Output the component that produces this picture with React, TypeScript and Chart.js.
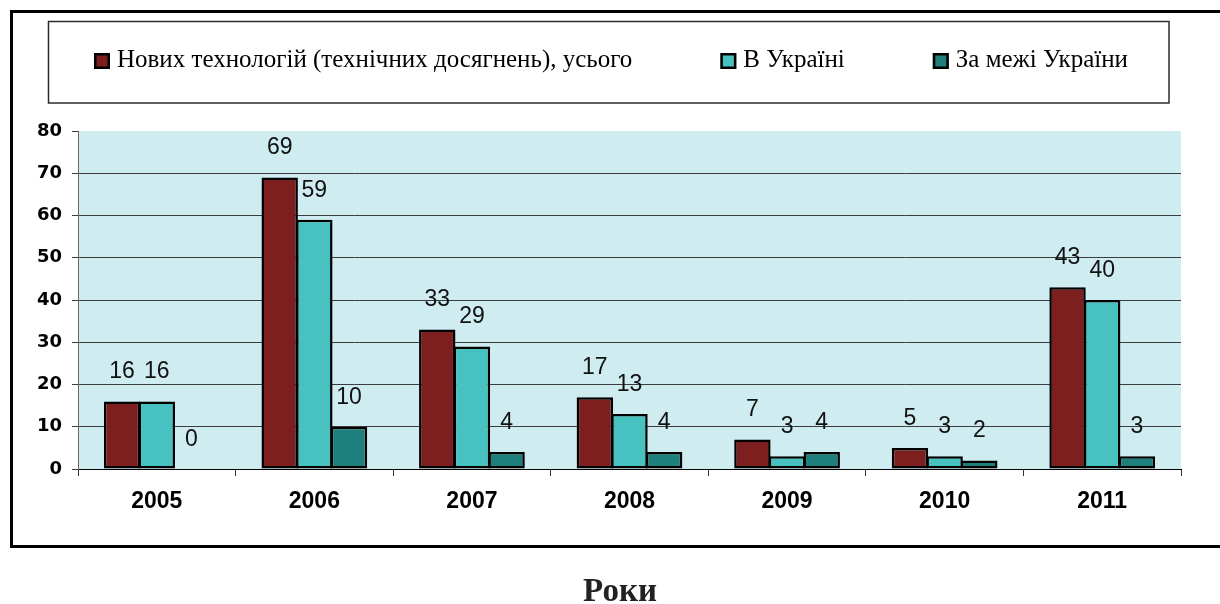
import React, { useEffect, useRef } from "react";
import { Chart, registerables } from "chart.js";

Chart.register(...registerables);

const categories = ["2005", "2006", "2007", "2008", "2009", "2010", "2011"];
const seriesNames = [
  "Нових технологій (технічних досягнень), усього",
  "В Україні",
  "За межі України",
];
const totalValues = [16, 69, 33, 17, 7, 5, 43];
const ukraineValues = [16, 59, 29, 13, 3, 3, 40];
const abroadValues = [0, 10, 4, 4, 4, 2, 3];
const yMin = 0;
const yMax = 80;
const yStep = 10;
const axisTitle = "Роки";

const seriesColors = ["#7E1F1F", "#47C2C0", "#1F7F7C"];

const decorPlugin = {
  id: "decor",
  beforeDraw(chart: any) {
    const { ctx, chartArea: a } = chart;
    ctx.save();
    ctx.fillStyle = "#CFECF0";
    ctx.fillRect(a.left, a.top, a.right - a.left, a.bottom - a.top);
    ctx.restore();
  },
  afterDatasetsDraw(chart: any) {
    const { ctx } = chart;
    ctx.save();
    ctx.font = '23px "Liberation Sans", Arial, sans-serif';
    ctx.fillStyle = "#111";
    ctx.textAlign = "center";
    ctx.textBaseline = "middle";
    chart.data.datasets.forEach((ds: any, i: number) => {
      const meta = chart.getDatasetMeta(i);
      meta.data.forEach((bar: any, j: number) => {
        ctx.fillText(String(ds.data[j]), bar.x, bar.y - 29.5);
      });
    });
    ctx.restore();
  },
  afterDraw(chart: any) {
    const { ctx } = chart;
    ctx.save();
    // outer frame
    ctx.strokeStyle = "#000";
    ctx.lineWidth = 3;
    ctx.strokeRect(11.5, 11.5, 1260, 535);
    // legend box
    ctx.strokeStyle = "#2a2a2a";
    ctx.lineWidth = 1.5;
    ctx.strokeRect(48.5, 21.5, 1120.5, 81.5);
    // legend items
    ctx.font = '25px "Liberation Serif", "Times New Roman", serif';
    ctx.textBaseline = "alphabetic";
    ctx.textAlign = "left";
    let x = 94;
    chart.data.datasets.forEach((ds: any) => {
      ctx.fillStyle = ds.backgroundColor;
      ctx.fillRect(x, 53, 16, 16);
      ctx.strokeStyle = "#000";
      ctx.lineWidth = 2.5;
      ctx.strokeRect(x + 1.25, 54.25, 13.5, 13.5);
      ctx.fillStyle = "#000";
      const tx = x + 23;
      ctx.fillText(ds.label, tx, 67);
      x = tx + ctx.measureText(ds.label).width + 88;
    });
    // bottom title
    ctx.font = 'bold 33px "Liberation Serif", "Times New Roman", serif';
    ctx.textAlign = "center";
    ctx.fillStyle = "#222";
    ctx.fillText(axisTitle, 620, 601);
    ctx.restore();
  },
};

export default function App() {
  const ref = useRef<HTMLCanvasElement | null>(null);

  useEffect(() => {
    if (!ref.current) return;
    const values = [totalValues, ukraineValues, abroadValues];
    const chart = new Chart(ref.current, {
      type: "bar",
      data: {
        labels: categories,
        datasets: seriesNames.map((name, i) => ({
          label: name,
          data: values[i],
          backgroundColor: seriesColors[i],
          borderColor: "#000",
          borderWidth: 2.5,
          borderSkipped: false,
          categoryPercentage: 0.66,
          barPercentage: 1.05,
        })),
      },
      options: {
        responsive: false,
        animation: false,
        devicePixelRatio: 1,
        layout: { padding: { left: 0, top: 131, right: 39, bottom: 85 } },
        plugins: {
          legend: { display: false },
          tooltip: { enabled: false },
          title: { display: false },
        },
        scales: {
          x: {
            offset: true,
            grid: {
              display: true,
              drawOnChartArea: false,
              drawTicks: true,
              tickLength: 7,
              offset: true,
              color: "#333",
            },
            border: { display: true, color: "#000", width: 1 },
            ticks: {
              font: { family: '"Liberation Sans", Arial, sans-serif', size: 23, weight: "bold" },
              color: "#000",
              padding: 12,
              maxRotation: 0,
              autoSkip: false,
            },
            afterFit: (s: any) => {
              s.height = 50;
            },
          },
          y: {
            min: yMin,
            max: yMax,
            ticks: {
              stepSize: yStep,
              font: { family: '"DejaVu Sans", sans-serif', size: 18, weight: "bold" },
              color: "#000",
              padding: 10,
            },
            grid: {
              color: (c: any) => (c.tick && c.tick.value === yMax ? "rgba(0,0,0,0)" : "#3c3c3c"),
              tickColor: "#3c3c3c",
              tickLength: 6,
              lineWidth: 1,
            },
            border: { color: "#666", width: 1 },
            afterFit: (s: any) => {
              s.width = 78;
            },
          },
        },
      },
      plugins: [decorPlugin],
    } as any);
    return () => chart.destroy();
  }, []);

  return (
    <div style={{ position: "fixed", left: 0, top: 0, width: 1220, height: 604, background: "#fff" }}>
      <canvas ref={ref} width={1220} height={604} style={{ display: "block" }} />
    </div>
  );
}
